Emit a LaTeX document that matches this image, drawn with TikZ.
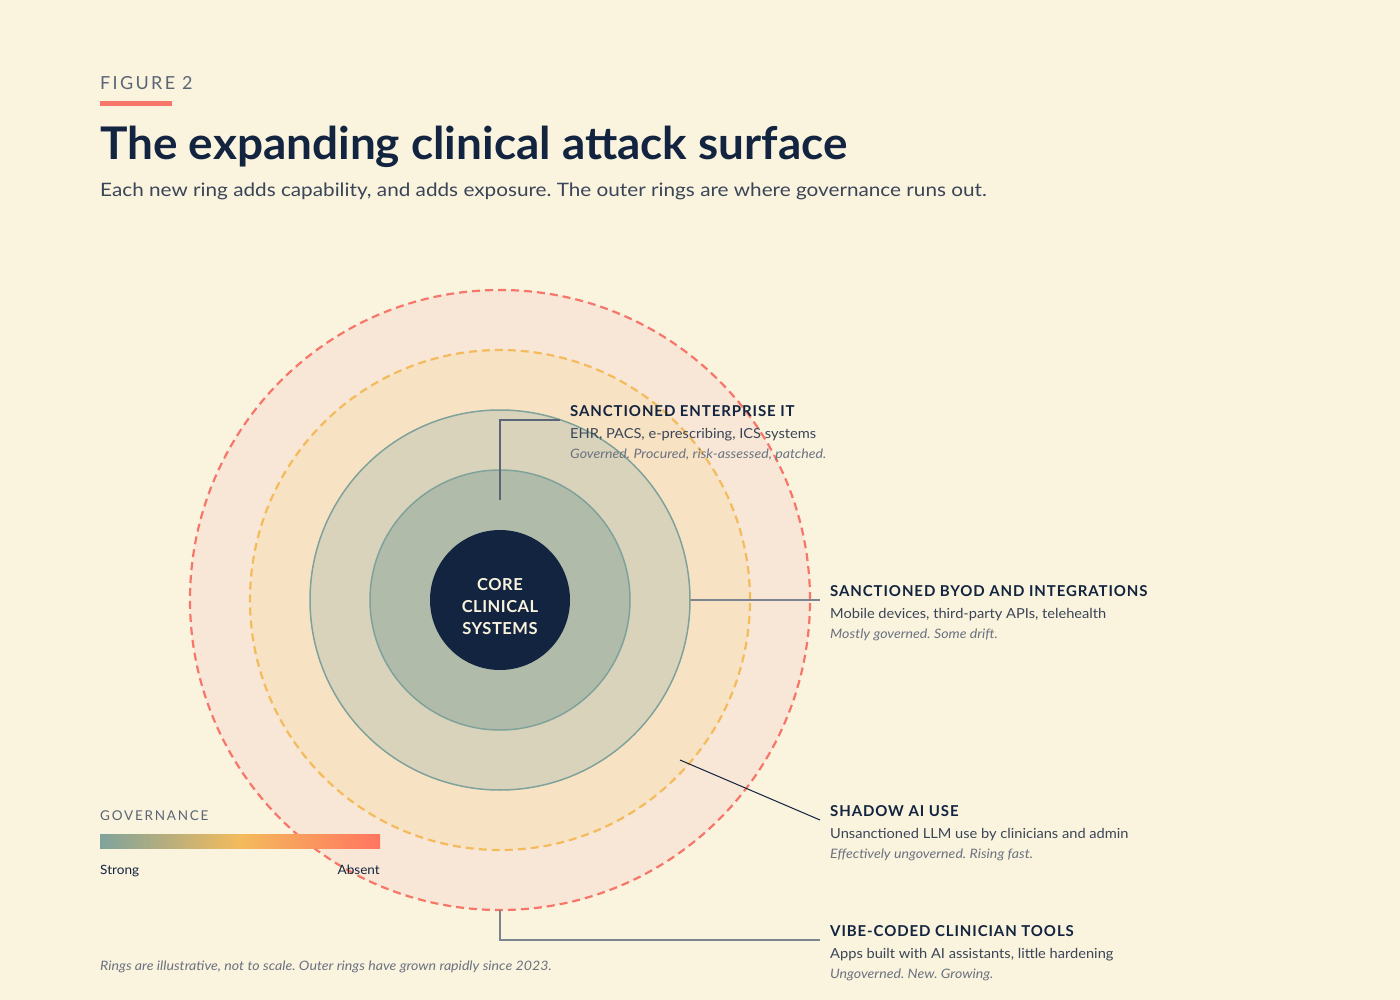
\documentclass[tikz,border=0pt]{standalone}
\usepackage{fontspec}
\setmainfont{Lato}
\newfontfamily\spacedA[LetterSpace=13]{Lato}
\newfontfamily\spacedB[LetterSpace=6]{Lato}
\newfontfamily\spacedC[LetterSpace=3]{Lato}
\newfontfamily\subfont[FakeStretch=1.12]{Lato}
\newfontfamily\descfont[FakeStretch=1.06]{Lato}
\newfontfamily\notefont[FakeStretch=1.09]{Lato}
\newfontfamily\titlefont[FakeStretch=1.02]{Lato}
\frenchspacing
\usetikzlibrary{calc}
\definecolor{bg}{HTML}{FAF3DE}
\definecolor{navy}{HTML}{12243F}
\definecolor{slate}{HTML}{3A4558}
\definecolor{muted}{HTML}{6B7280}
\definecolor{figgray}{HTML}{5A6675}
\definecolor{coral}{HTML}{F6766A}
\definecolor{amber}{HTML}{F4BB5C}
\definecolor{teal}{HTML}{7FA39B}
\definecolor{ringA}{HTML}{F8E7D6}
\definecolor{ringB}{HTML}{F8E2C4}
\definecolor{ringC}{HTML}{DAD3BC}
\definecolor{ringD}{HTML}{B0BBAA}
\definecolor{cream}{HTML}{FAF3DE}
\definecolor{gradL}{HTML}{7FA39B}
\definecolor{gradR}{HTML}{FF7560}
\definecolor{leader}{HTML}{5A6675}
\tikzset{
  ring/.style={circle, inner sep=0pt, outer sep=0pt},
  dashring/.style={ring, line width=2.2pt, dash pattern=on 8pt off 5pt},
  lbltitle/.style={anchor=base west, inner sep=0pt, text=navy, font=\spacedB\bfseries\fontsize{15}{18}\selectfont},
  lbldesc/.style={anchor=base west, inner sep=0pt, text=slate, font=\descfont\fontsize{13.8}{16}\selectfont},
  lblnote/.style={anchor=base west, inner sep=0pt, text=muted, font=\notefont\itshape\fontsize{13}{15}\selectfont},
  leadline/.style={draw=leader, line width=1.2pt},
}
\begin{document}
\begin{tikzpicture}[x=1pt,y=-1pt]
\fill[bg] (0,0) rectangle (1400,1000);
\useasboundingbox (0,0) rectangle (1400,1000);

% header
\node[anchor=base west, inner sep=0pt, text=figgray, font=\spacedA\fontsize{18}{20}\selectfont] (fig) at (100,90) {FIGURE 2};
\fill[coral] (100,101.5) rectangle (172,106.5);
\node[anchor=base west, inner sep=0pt, text=navy, font=\titlefont\bfseries\fontsize{45}{50}\selectfont] (title) at (100,160) {The expanding clinical attack surface};
\node[anchor=base west, inner sep=0pt, text=slate, font=\subfont\fontsize{18.5}{21}\selectfont] (sub) at (100,197) {Each new ring adds capability, and adds exposure. The outer rings are where governance runs out.};

% rings
\node[ring, fill=ringA, minimum size=620pt] (r4) at (500,600) {};
\node[dashring, draw=coral, minimum size=620pt] at (500,600) {};
\node[ring, fill=ringB, minimum size=500pt] (r3) at (500,600) {};
\node[dashring, draw=amber, minimum size=500pt] at (500,600) {};
\node[ring, fill=ringC, draw=teal, line width=1.5pt, minimum size=380pt] (r2) at (500,600) {};
\node[ring, fill=ringD, draw=teal, line width=1.5pt, minimum size=260pt] (r1) at (500,600) {};
\node[ring, fill=navy, minimum size=140pt] (core) at (500,600) {};
\node[anchor=center, inner sep=0pt, text=cream, align=center, font=\spacedC\bfseries\fontsize{16.5}{22}\selectfont] (coretxt) at (500,607) {CORE\\CLINICAL\\SYSTEMS};

% leader coordinates
\coordinate (e1) at (500,500);
\coordinate (e2) at (500,420);
\coordinate (e3) at (560,420);
\coordinate (b2) at (820,600);
\coordinate (s1) at (680,760);
\coordinate (s2) at (820,820);
\coordinate (v2) at (500,940);
\coordinate (v3) at (820,940);

\draw[leadline] (e1) -- (e2) -- (e3);
\draw[leadline, draw=leader!80] (r2.east) -- (b2);
\draw[draw=navy, line width=1pt] (s1) -- (s2);
\draw[leadline, draw=leader!80] (r4.south) -- (v2) -- (v3);

% labels
\node[lbltitle] (t1) at (570,416) {SANCTIONED ENTERPRISE IT};
\node[lbldesc] (d1) at (570,438) {EHR, PACS, e-prescribing, ICS systems};
\node[lblnote] (n1) at (570,458) {Governed. Procured, risk-assessed, patched.};

\node[lbltitle] (t2) at (830,596) {SANCTIONED BYOD AND INTEGRATIONS};
\node[lbldesc] (d2) at (830,618) {Mobile devices, third-party APIs, telehealth};
\node[lblnote] (n2) at (830,638) {Mostly governed. Some drift.};

\node[lbltitle] (t3) at (830,816) {SHADOW AI USE};
\node[lbldesc] (d3) at (830,838) {Unsanctioned LLM use by clinicians and admin};
\node[lblnote] (n3) at (830,858) {Effectively ungoverned. Rising fast.};

\node[lbltitle] (t4) at (830,936) {VIBE-CODED CLINICIAN TOOLS};
\node[lbldesc] (d4) at (830,958) {Apps built with AI assistants, little hardening};
\node[lblnote] (n4) at (830,978) {Ungoverned. New. Growing.};

% legend
\node[anchor=base west, inner sep=0pt, text=figgray, font=\spacedA\fontsize{13.5}{16}\selectfont] (gov) at (100,820) {GOVERNANCE};
\shade[left color=gradL, right color=amber] (100,834) rectangle (240,848);
\shade[left color=amber, right color=gradR] (240,834) rectangle (380,848);
\node[anchor=base west, inner sep=0pt, text=navy, font=\descfont\fontsize{12.8}{15}\selectfont] (strong) at (100,874) {Strong};
\node[anchor=base east, inner sep=0pt, text=navy, font=\descfont\fontsize{12.8}{15}\selectfont] (absent) at (380,874) {Absent};

% footnote
\node[anchor=base west, inner sep=0pt, text=muted, font=\notefont\itshape\fontsize{13}{15}\selectfont] (foot) at (100,970) {Rings are illustrative, not to scale. Outer rings have grown rapidly since 2023.};
\end{tikzpicture}
\end{document}
